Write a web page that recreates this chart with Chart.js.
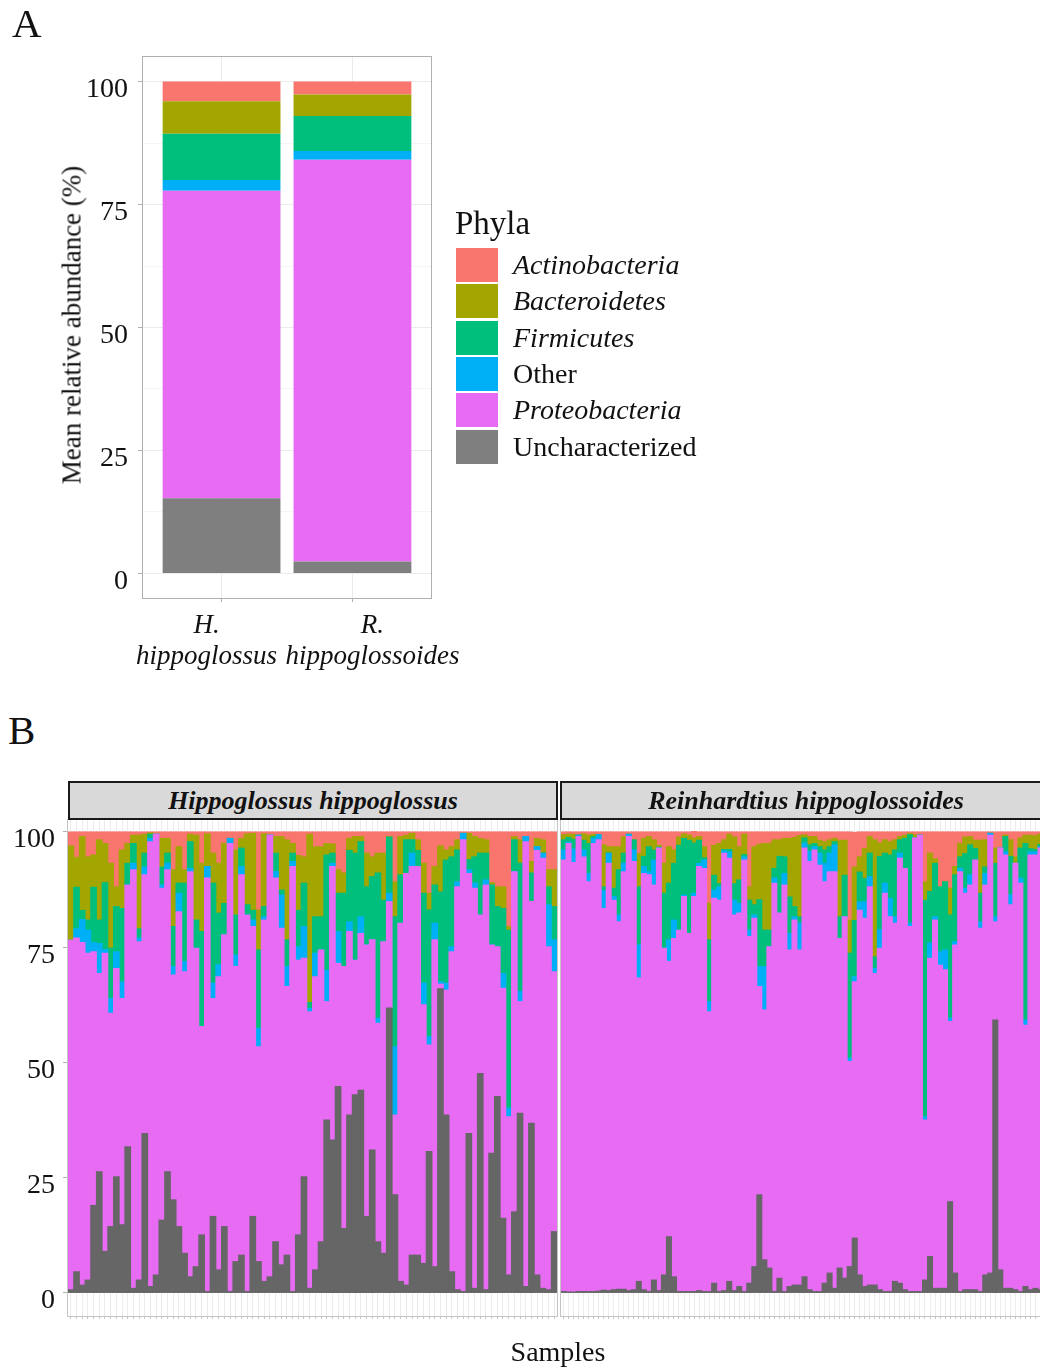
<!DOCTYPE html>
<html lang="en">
<head>
<meta charset="UTF-8">
<title>Phyla relative abundance</title>
<script src="https://cdn.jsdelivr.net/npm/chart.js"></script>
<style>
  html, body { margin: 0; padding: 0; overflow: hidden; background: #fff; }
  body { position: relative; width: 1040px; height: 1368px; font-family: "Liberation Serif", "DejaVu Serif", serif; color: #111; }
  .abs { position: absolute; }
  .panelLabel { font-size: 41px; line-height: 1; }
  .yTitle { font-size: 27px; line-height: 1; white-space: nowrap; transform: translate(-50%, -50%) rotate(-90deg); }
  .strip { box-sizing: border-box; top: 781px; height: 39px; background: #d9d9d9; border: 2px solid #1a1a1a;
           font-weight: bold; font-style: italic; font-size: 26px; line-height: 35px; text-align: center; white-space: nowrap; overflow: hidden; }
  .legRow { position: absolute; left: 0; height: 34px; width: 300px; }
  .legKey { position: absolute; left: 0; top: 0; width: 42px; height: 34px; }
  .legTxt { position: absolute; left: 57px; top: 0; font-size: 28px; line-height: 34px; white-space: nowrap; }
</style>
</head>
<body>
<div class="abs" style="left:0; top:0; width:470px; height:680px"><canvas id="graficoA" width="470" height="680"></canvas></div>
<div class="abs" style="left:0; top:790px; width:558px; height:560px"><canvas id="graficoHh" width="558" height="560"></canvas></div>
<div class="abs" style="left:557px; top:790px; width:495px; height:560px"><canvas id="graficoRh" width="495" height="560"></canvas></div>

<div class="abs panelLabel" style="left:12px; top:3px">A</div>
<div class="abs panelLabel" style="left:8px; top:710px">B</div>
<div class="abs yTitle" style="left:72px; top:325px">Mean relative abundance (%)</div>

<div class="abs" style="left:455px; top:207px; font-size:33px; line-height:1">Phyla</div>
<div id="legenda" class="abs" style="left:456px; top:248px"></div>

<div class="abs strip" id="stripHh" style="left:68px; width:490px"></div>
<div class="abs strip" id="stripRh" style="left:560px; width:492px"></div>
<div class="abs" style="left:558px; top:1352px; transform:translate(-50%,-50%); font-size:28px; line-height:1">Samples</div>

<script>
// phyla, legend order (top of stack first)
const phyla = ['Actinobacteria', 'Bacteroidetes', 'Firmicutes', 'Other', 'Proteobacteria', 'Uncharacterized'];
const coloursA = ['#F8766D', '#A3A500', '#00BF7D', '#00B0F6', '#E76BF3', '#7F7F7F'];
const coloursB = ['#F8766D', '#A3A500', '#00BF7D', '#00B0F6', '#E76BF3', '#666666'];
const yTicks = [0, 25, 50, 75, 100];

// panel A: mean relative abundance (%)
const speciesA = [['H.', 'hippoglossus'], ['R.', 'hippoglossoides']];
const meanActino = [4.0, 2.6];
const meanBactero = [6.6, 4.4];
const meanFirmi = [9.4, 7.1];
const meanOther = [2.2, 1.8];
const meanProteo = [62.5, 81.7];
const meanUnchar = [15.3, 2.4];

// panel B: per sample (%)
const facetNames = ['Hippoglossus hippoglossus', 'Reinhardtius hippoglossoides'];

const hhActino = [3, 5.5, 1, 5.4, 5, 1.7, 2.5, 6.8, 11.9, 3.9, 2.5, 0.7, 0.7, 0.5, 0.2, 0.5, 1.4, 1.4, 8.2, 3.2,
  8.2, 0.5, 0.7, 6.8, 0.4, 4.6, 6.8, 2.5, 1.4, 3.9, 1.4, 0.4, 0.3, 16.9, 0.4, 0.7, 1, 1, 1.7, 2.5,
  5.1, 5.4, 0.5, 3.2, 3.2, 2.5, 2.6, 8.2, 8.9, 1.4, 1, 1, 4.6, 5.4, 4.6, 4.6, 1, 10.8, 1, 0.7,
  0.3, 1.7, 6.8, 13.3, 7.5, 3, 3.9, 3.2, 1.7, 0.3, 0.3, 1, 1.4, 1.7, 11, 11.9, 11.9, 20.5, 1, 1.7,
  1, 6.4, 1.4, 1.7, 8.2, 8.2];
const hhBactero = [20.5, 6.5, 16, 13.7, 7, 17.4, 8.5, 18.4, 4.3, 12.7, 4.3, 1.8, 20.3, 4.1, 0.3, 0, 6.2, 3.2, 12.3, 7.9,
  2.9, 1.6, 18.4, 14.8, 7.1, 6.5, 10.8, 13, 0, 14.1, 2.1, 15.4, 16.7, 8.7, 15.8, 0, 3.6, 11.6, 21.7, 2.1,
  11.9, 5.7, 36.5, 15.2, 15.2, 2.5, 2, 5.1, 4.4, 2.6, 3.6, 1.1, 7.3, 4.3, 4.3, 10.2, 0.1, 7.6, 8.3, 1,
  1.4, 2.3, 6.5, 3.6, 4, 10, 2.2, 2.2, 2.2, 0, 5.7, 4.4, 3.2, 2.9, 0.5, 4.3, 4.7, 0.8, 0.7, 5.1,
  0, 2.5, 1.8, 2.9, 3.7, 8];
const hhFirmi = [0, 9, 2, 2.2, 12, 5.1, 14.5, 10.9, 9.8, 15.9, 4.7, 4.3, 2, 3, 0.9, 0, 3.9, 2.2, 8.7, 2.2,
  17, 5.8, 6.1, 20.6, 0, 21.7, 11.2, 6.8, 0, 8.7, 4, 2.2, 2.1, 17, 2.2, 0, 4, 1.1, 5.8, 1.8,
  7.9, 9.4, 1.3, 7.9, 7.2, 25, 2.2, 8.3, 15.9, 15.5, 23.2, 16.3, 12.6, 13.7, 31.5, 9, 12.2, 28.2, 10.5, 7.3,
  2.9, 3.5, 19.5, 27.5, 8.3, 19.5, 26.7, 19.5, 6.9, 0, 2.2, 5.7, 13.4, 5.8, 13, 8.7, 14.1, 38.6, 6.9, 27.8,
  0, 6.2, 0, 0, 3.9, 7.2];
const hhOther = [0, 2, 5, 5, 2, 6.5, 0.8, 3.2, 3.6, 3.6, 0, 1.4, 0.8, 1.7, 0.7, 0, 0.7, 1.4, 1.8, 4,
  2.2, 0.7, 0, 0, 2.5, 3.3, 2.6, 0, 1.1, 2.5, 1.8, 0, 1.4, 4, 0.7, 0, 1.4, 7.2, 4.3, 1.1,
  2.9, 6.9, 0.7, 5.1, 0, 6.8, 0.7, 6.9, 0, 2.1, 0, 3.6, 0, 0, 1.1, 0, 1.8, 14.8, 0, 0,
  2.9, 0, 4.7, 1.8, 3.6, 0.5, 1.5, 1.1, 1.1, 1.4, 0.8, 1.1, 0, 1.1, 0, 0, 3.2, 1.9, 0, 2.2,
  1.1, 0, 0.8, 1.1, 9.1, 6.9];
const hhProteo = [75.8, 72.4, 74.3, 70.9, 55, 43, 64.7, 46.3, 45.2, 49.1, 56.8, 90.8, 73.4, 56.1, 96.5, 95.6, 72, 65.5, 48.8, 68.3,
  61.1, 87.9, 69.1, 45.2, 89.7, 47.3, 63.6, 63.3, 97.2, 64, 82.5, 81.7, 62.9, 46.6, 78.4, 95.8, 78.9, 73, 58.3, 92.2,
  59.6, 47.4, 60, 63.6, 63.3, 25.7, 59.3, 26.7, 56.8, 39.8, 29.2, 34, 58.9, 45.6, 47.4, 67.6, 23.1, 17.3, 77.7, 89.3,
  84.3, 84.3, 56.1, 23.1, 70.9, 1, 27.1, 69.4, 87.4, 98, 56.4, 86.8, 34.4, 87.8, 45.2, 32.5, 49.9, 34.3, 73.8, 24.2,
  96.5, 48.1, 92.1, 93.3, 74.4, 56.4];
const hhUnchar = [0.7, 4.6, 1.7, 2.8, 19, 26.3, 9, 14.4, 25.2, 14.8, 31.7, 1, 2.8, 34.6, 1.4, 3.9, 15.8, 26.3, 20.2, 14.4,
  8.6, 3.5, 5.7, 12.6, 0.3, 16.6, 5, 14.4, 0.3, 6.8, 8.2, 0.3, 16.6, 6.8, 2.5, 3.5, 11.1, 6.1, 8.2, 0.3,
  12.6, 25.2, 1, 5, 11.1, 37.5, 33.2, 44.8, 14, 38.6, 43, 44, 16.6, 31, 11.1, 8.6, 61.8, 21.3, 2.5, 1.7,
  8.2, 8.2, 6.4, 30.7, 5.7, 66, 38.6, 4.6, 0.7, 0.3, 34.6, 1, 47.6, 0.7, 30.3, 42.6, 16.2, 3.9, 17.6, 39,
  1.4, 36.8, 3.9, 1, 0.7, 13.3];

const rhActino = [0.6, 0.5, 0.5, 0.7, 0.4, 0.7, 0.5, 0.6, 2.8, 3.2, 3.2, 3.2, 1.1, 0.5, 1.7, 4.7, 1.4, 1, 1.7, 2.9,
  6.8, 3.2, 3.9, 1.1, 0.4, 0.7, 1.4, 1, 3.2, 15.5, 2.9, 2.5, 1.7, 0.5, 1.1, 3.2, 0.5, 11.9, 3.2, 2.7,
  2.5, 2.5, 1.7, 1.7, 1.4, 1.4, 1.2, 0.8, 0.6, 1, 1, 1.8, 2.1, 1.7, 1.4, 1.8, 1.8, 19.1, 7.5, 5.4,
  3.6, 1, 1.7, 2.4, 1.7, 2.1, 1.7, 1, 0.7, 0.3, 0.6, 0.7, 10.8, 4.6, 5.8, 11.9, 10.8, 12.2, 7.5, 2.5,
  1.1, 1, 1.8, 1.8, 1.7, 0.3, 3.5, 3.5, 0.7, 1.7, 5.4, 1.3, 0.7, 0.7, 0.8, 0.5, 0.5];
const rhBactero = [1.1, 0.7, 1.1, 0, 1.4, 1.8, 0.5, 0, 9.1, 1.4, 9, 5, 3.5, 0, 0, 7.2, 3.9, 2.2, 2.2, 0.4,
  6.5, 7.9, 2.9, 1.8, 1, 1.1, 1.1, 0.8, 2.4, 7.9, 6.5, 8.7, 2.1, 3.3, 10.1, 7.2, 4.4, 2.9, 12.6, 12,
  18.8, 18.8, 6.2, 3.6, 4, 12.7, 15, 17.6, 0.7, 1.8, 1.5, 1.4, 1.8, 1.5, 0.7, 16.6, 7.6, 7.2, 11.6, 3.3,
  6.5, 3.6, 25.4, 2.9, 2.9, 2.9, 2.2, 0.7, 0.7, 0.3, 0.7, 0, 4, 8.3, 1, 0, 0, 5.8, 1.8, 2.9,
  3.6, 1.8, 1.8, 11.5, 5.9, 0, 3.3, 0, 0.3, 3.6, 1.4, 2.2, 1.8, 2.9, 3, 2.2, 2];
const rhFirmi = [2.2, 1, 2.1, 0, 2.1, 6.5, 0.4, 0, 0.8, 0, 1.8, 9.8, 2.2, 0, 2.2, 12.6, 2.2, 5.4, 2.2, 0.2,
  11.9, 12.3, 12.3, 18.4, 12.3, 20.2, 10.9, 5, 0.5, 13.4, 3.2, 0.7, 0.3, 0.5, 3.6, 5.1, 0.5, 6.5, 2.2, 14.5,
  7.9, 3.6, 2.1, 12.3, 3.6, 7.9, 2.2, 1.4, 1.1, 1.4, 0.7, 1.4, 2.9, 1.4, 0.7, 4.7, 9, 22.8, 12.2, 6.5,
  5, 5.1, 2.5, 15.9, 6.5, 9.4, 14.5, 2.9, 6.5, 19.2, 0, 0, 47, 11.2, 11.6, 14.1, 14.8, 22.4, 14.5, 2.5,
  7.5, 6.5, 2.5, 6.2, 1.4, 0, 11.6, 0, 3.3, 8.3, 0, 6.5, 38.3, 0.7, 0.5, 0.5, 1.5];
const rhOther = [2.2, 0.3, 2.9, 0.3, 1.5, 1.8, 1.1, 1.1, 3.9, 2.2, 0.8, 1.5, 1.8, 0.5, 2.5, 7.2, 1.5, 0.7, 5.4, 0,
  0, 4.7, 4, 0, 0.3, 0, 0.7, 0.7, 1.8, 2.2, 1.8, 2.9, 0.5, 1.4, 3.2, 2.1, 0.7, 1.4, 0.7, 4.3,
  9.4, 0, 1.1, 0, 2.5, 3.6, 0.7, 5.8, 1.1, 2.2, 0.7, 2.6, 4, 4, 5.8, 0, 0, 0.7, 1.1, 1.8,
  3.6, 2.2, 1.1, 4, 2.2, 4, 1.4, 1.1, 0, 0.7, 0, 0, 0.7, 3.3, 0.7, 2.9, 4.3, 0.7, 0.7, 0.7,
  1.1, 2.2, 0, 1.4, 2.5, 0.4, 1.1, 0, 0.7, 2.2, 0, 1.1, 1.1, 0.7, 0.7, 0.3, 0.5];
const rhProteo = [93.6, 97.3, 93.2, 98.7, 94.3, 88.9, 97.2, 97.9, 82.8, 92.7, 84.5, 79.7, 90.6, 98.5, 92.9, 65.8, 90.3, 90.4, 85.7, 96,
  70.9, 59.7, 73.4, 78.4, 85.7, 77.7, 85.7, 92, 91.8, 60.7, 83.5, 84.9, 94.9, 91.8, 81.5, 81, 93.6, 75.2, 75.6, 45.2,
  54.2, 69.7, 88.6, 79.2, 88.2, 73, 79.2, 72.7, 93, 92.9, 95.8, 92.5, 87.1, 87.1, 90.4, 71.5, 78.4, 44.5, 55.6, 79.1,
  79.9, 86.4, 67.6, 74.1, 86.4, 81.3, 77.7, 92.2, 91.4, 79.2, 98.4, 99, 34.7, 64.7, 79.9, 70.1, 69.1, 39.1, 71.2, 91.1,
  86, 87.8, 93.2, 78.8, 84.6, 95, 21.3, 91.5, 94, 83.2, 92.5, 88.6, 56.7, 94.3, 94, 95.8, 95];
const rhUnchar = [0.3, 0.2, 0.2, 0.3, 0.3, 0.3, 0.3, 0.4, 0.6, 0.5, 0.7, 0.8, 0.8, 0.5, 0.7, 2.5, 0.7, 0.3, 2.8, 0.5,
  3.9, 12.2, 3.5, 0.3, 0.3, 0.3, 0.3, 0.5, 0.3, 0.3, 2.1, 0.3, 0.5, 2.5, 0.5, 1.4, 0.3, 2.1, 5.7, 21.3,
  7.2, 5.4, 0.3, 3.2, 0.3, 1.4, 1.7, 1.7, 3.5, 0.7, 0.3, 0.3, 2.1, 4.3, 1, 5.4, 3.2, 5.7, 11.9, 3.9,
  1.4, 1.7, 1.7, 0.7, 0.3, 0.3, 2.5, 2.1, 0.7, 0.3, 0.3, 0.3, 2.8, 7.9, 1, 1, 1, 19.8, 4.3, 0.3,
  0.7, 0.7, 0.7, 0.3, 3.9, 4.3, 59.2, 5, 1, 1, 0.7, 0.3, 1.4, 0.7, 1, 0.7, 0.5];

const hhSamples = hhUnchar.map((_, i) => 'Hh' + (i + 1));
const rhSamples = rhUnchar.map((_, i) => 'Rh' + (i + 1));

const serif = '"Liberation Serif", "DejaVu Serif", serif';

// grey frame round the panel
const panelBorder = {
  id: 'panelBorder',
  afterDatasetsDraw(chart, args, opts) {
    const { ctx, chartArea: a } = chart;
    ctx.save();
    ctx.strokeStyle = opts.color;
    ctx.lineWidth = 1;
    ctx.strokeRect(a.left - 0.5, a.top - 0.5, a.width + 1, a.height + 1);
    ctx.restore();
  }
};

// two-line italic species names under panel A
const speciesLabels = {
  id: 'speciesLabels',
  afterDraw(chart, args, opts) {
    const ctx = chart.ctx, xs = chart.scales.x;
    ctx.save();
    ctx.font = 'italic 27px ' + serif;
    ctx.fillStyle = '#111';
    ctx.textAlign = 'center';
    ctx.textBaseline = 'middle';
    opts.lines.forEach((lines, i) => {
      const x = xs.getPixelForValue(i + 1) + opts.shift[i];
      lines.forEach((t, j) => ctx.fillText(t, x, opts.top + j * opts.gap));
    });
    ctx.restore();
  }
};

// ---- panel A
const seriesA = [meanActino, meanBactero, meanFirmi, meanOther, meanProteo, meanUnchar];
const datasetsA = seriesA.map((vals, p) => ({
  label: phyla[p],
  data: vals.map((v, i) => ({ x: i + 1, y: v })),
  backgroundColor: coloursA[p],
  borderWidth: 0,
  categoryPercentage: 0.9,
  barPercentage: 1
})).reverse();

const isMajor = v => v % 25 === 0;

new Chart(document.getElementById('graficoA'), {
  type: 'bar',
  data: { datasets: datasetsA },
  options: {
    responsive: false,
    animation: false,
    layout: { padding: { top: 57, right: 39, bottom: 78, left: 0 } },
    plugins: {
      legend: { display: false },
      tooltip: { enabled: false },
      panelBorder: { color: '#b0b0b0' },
      speciesLabels: { lines: speciesA, shift: [-15, 20], top: 626, gap: 31 }
    },
    scales: {
      x: {
        type: 'linear', min: 0.4, max: 2.6, stacked: true, offset: false,
        afterBuildTicks: s => { s.ticks = [{ value: 1 }, { value: 2 }]; },
        afterFit: s => { s.height = 4; },
        ticks: { display: false },
        grid: { offset: false, color: '#ebebeb', tickLength: 4, tickColor: '#b0b0b0' },
        border: { display: false }
      },
      y: {
        min: -5, max: 105, stacked: true,
        afterBuildTicks: s => { s.ticks = [0, 12.5, 25, 37.5, 50, 62.5, 75, 87.5, 100].map(v => ({ value: v })); },
        afterFit: s => { s.width = 143; },
        ticks: { font: { family: serif, size: 28 }, color: '#111', padding: 10, labelOffset: 8,
                 callback: v => isMajor(v) ? v : '' },
        grid: {
          color: c => c.tick && isMajor(c.tick.value) ? '#ebebeb' : '#f5f5f5',
          tickLength: 5,
          tickColor: c => c.tick && isMajor(c.tick.value) ? '#b0b0b0' : 'rgba(0,0,0,0)'
        },
        border: { display: false }
      }
    }
  },
  plugins: [panelBorder, speciesLabels]
});

// ---- panel B facets
function facetChart(canvasId, labels, series, showY) {
  const datasets = series.map((vals, p) => ({
    label: phyla[p],
    data: vals,
    backgroundColor: coloursB[p],
    borderWidth: 0,
    barPercentage: 1,
    categoryPercentage: 1,
    inflateAmount: 0.5
  })).reverse();

  return new Chart(document.getElementById(canvasId), {
    type: 'bar',
    data: { labels: labels, datasets: datasets },
    options: {
      responsive: false,
      animation: false,
      layout: { padding: { top: 30, right: showY ? 1 : 4, bottom: 30, left: showY ? 0 : 4 } },
      plugins: {
        legend: { display: false },
        tooltip: { enabled: false },
        panelBorder: { color: '#c4c4c4' }
      },
      scales: {
        x: {
          stacked: true,
          afterFit: s => { s.height = 4; },
          ticks: { display: false, autoSkip: false },
          grid: { offset: false, color: '#ececec', tickLength: 3, tickColor: '#c4c4c4' },
          border: { display: false }
        },
        y: {
          stacked: true, min: -5, max: 102.6,
          afterBuildTicks: s => { s.ticks = yTicks.map(v => ({ value: v })); },
          afterFit: s => { s.width = showY ? 68 : 0; },
          ticks: { display: showY, font: { family: serif, size: 28 }, color: '#111', padding: 8, labelOffset: 8 },
          grid: { color: '#ebebeb', drawTicks: showY, tickLength: 5, tickColor: '#b0b0b0' },
          border: { display: false }
        }
      }
    },
    plugins: [panelBorder]
  });
}

facetChart('graficoHh', hhSamples, [hhActino, hhBactero, hhFirmi, hhOther, hhProteo, hhUnchar], true);
facetChart('graficoRh', rhSamples, [rhActino, rhBactero, rhFirmi, rhOther, rhProteo, rhUnchar], false);

document.getElementById('stripHh').textContent = facetNames[0];
document.getElementById('stripRh').textContent = facetNames[1];

// legend
const legenda = document.getElementById('legenda');
phyla.forEach((name, i) => {
  const row = document.createElement('div');
  row.className = 'legRow';
  row.style.top = (i * 36.3) + 'px';
  const key = document.createElement('div');
  key.className = 'legKey';
  key.style.background = coloursA[i];
  const txt = document.createElement('div');
  txt.className = 'legTxt';
  txt.textContent = name;
  if (name !== 'Other' && name !== 'Uncharacterized') txt.style.fontStyle = 'italic';
  row.appendChild(key);
  row.appendChild(txt);
  legenda.appendChild(row);
});
</script>
</body>
</html>
